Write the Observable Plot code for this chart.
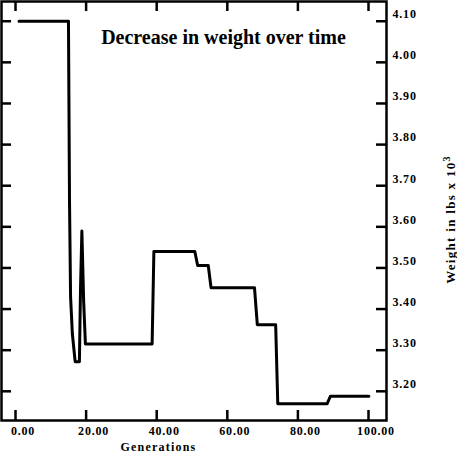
<!DOCTYPE html>
<html>
<head>
<meta charset="utf-8">
<script src="https://cdn.jsdelivr.net/npm/d3@7"></script>
<script src="https://cdn.jsdelivr.net/npm/@observablehq/plot@0.6"></script>
<style>
  body { margin: 0; background: #fff; }
  svg { font-family: "Liberation Serif", "DejaVu Serif", serif; font-weight: bold; }
  .ticklab text { letter-spacing: 0.8px; }
  .ylab text { letter-spacing: 1.3px; }
  .xlab text { letter-spacing: 1.2px; }
</style>
</head>
<body>
<div id="chart"></div>
<script>
// Data
const generations = [1, 15.0, 15.3, 15.6, 16.1, 16.9, 18.1, 18.4, 18.8, 19.3, 19.8, 38.7, 39.2, 50.8, 51.6, 54.6, 55.4, 67.7, 68.5, 73.7, 74.3, 88.3, 89.2, 100.1];
const weights     = [4.10, 4.10, 3.66, 3.43, 3.34, 3.272, 3.272, 3.444, 3.59, 3.42, 3.315, 3.315, 3.54, 3.54, 3.506, 3.506, 3.452, 3.452, 3.362, 3.362, 3.17, 3.17, 3.188, 3.188];
const xTicks = [0, 20, 40, 60, 80, 100];
const yTicks = [3.2, 3.3, 3.4, 3.5, 3.6, 3.7, 3.8, 3.9, 4.0, 4.1];
const titleText = "Decrease in weight over time";
const xLabel = "Generations";
const yLabelMain = "Weight in lbs x 10";
const yLabelSup = "3";

const data = generations.map((g, i) => ({g, w: weights[i]}));

const W = 457, H = 453;
const mL = 1, mR = 71, mT = 1, mB = 33;
const innerW = W - mL - mR, innerH = H - mT - mB;
const fmt = d3.format(".2f");

const chart = Plot.plot({
  width: W, height: H,
  marginLeft: mL, marginRight: mR, marginTop: mT, marginBottom: mB,
  style: {background: "#fff", color: "#000", fontSize: "12px", overflow: "visible"},
  x: {domain: [-3.97, 105.1], axis: null},
  y: {domain: [3.129, 4.148], axis: null},
  marks: [
    Plot.frame({stroke: "#000", strokeWidth: 2.5}),
    // inward tick marks on all four sides
    Plot.tickY(yTicks, {y: d => d, insetLeft: innerW - 10, stroke: "#000", strokeWidth: 2.5}),
    Plot.tickY(yTicks, {y: d => d, insetRight: innerW - 10, stroke: "#000", strokeWidth: 2.5}),
    Plot.tickX(xTicks, {x: d => d, insetTop: innerH - 10, stroke: "#000", strokeWidth: 2.5}),
    Plot.tickX(xTicks, {x: d => d, insetBottom: innerH - 10, stroke: "#000", strokeWidth: 2.5}),
    Plot.axisY(yTicks, {anchor: "right", tickSize: 0, tickPadding: 6, dy: -7, tickFormat: fmt, label: null, className: "ticklab", fontSize: 12}),
    Plot.axisX(xTicks, {anchor: "bottom", tickSize: 0, tickPadding: 6, dx: 7.5, tickFormat: fmt, label: null, className: "ticklab", fontSize: 12}),
    Plot.line(data, {x: "g", y: "w", stroke: "#000", strokeWidth: 3}),
    Plot.text([titleText], {text: d => d, frameAnchor: "top", dx: 29.5, dy: 36, lineAnchor: "middle", fontSize: 20, fontWeight: "bold"}),
    Plot.text([xLabel], {text: d => d, frameAnchor: "bottom-left", dx: 157, dy: 27, lineAnchor: "middle", textAnchor: "middle", fontSize: 12, className: "xlab"}),
    Plot.text([yLabelMain], {text: d => d, frameAnchor: "right", dx: 64, dy: 8.5, rotate: -90, lineAnchor: "middle", textAnchor: "middle", fontSize: 13, className: "ylab"})
  ]
});
// add the superscript exponent as a real tspan
d3.select(chart).selectAll(".ylab text").each(function() {
  d3.select(this).append("tspan")
    .attr("dy", "-0.45em")
    .attr("font-size", "10px")
    .text(yLabelSup);
});
document.getElementById("chart").appendChild(chart);
</script>
</body>
</html>
